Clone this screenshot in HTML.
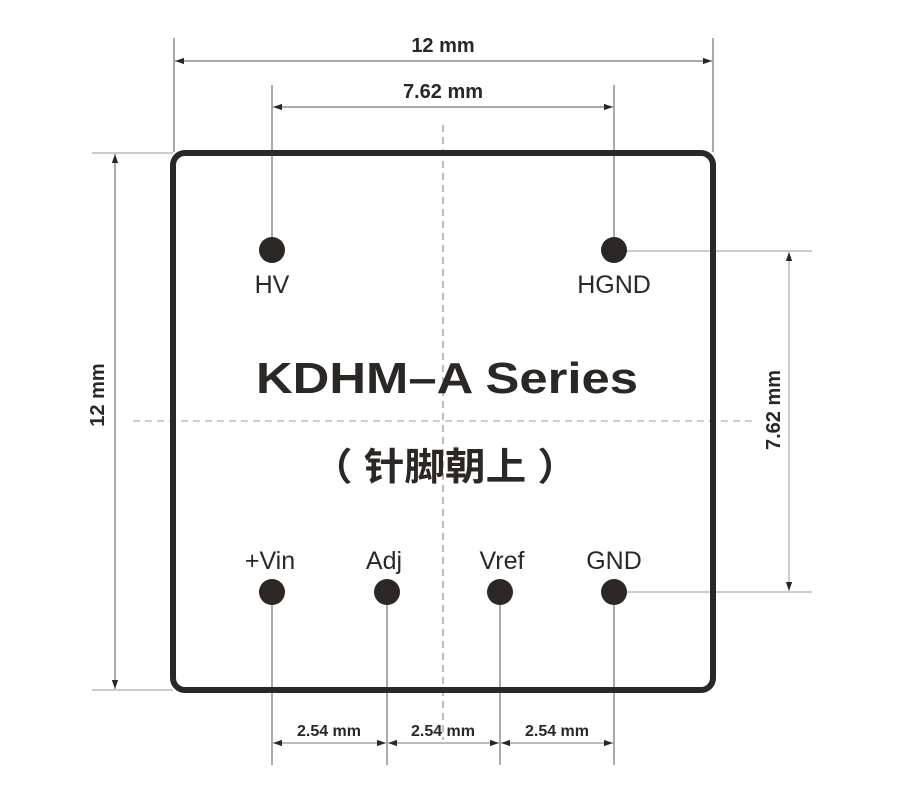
<!DOCTYPE html>
<html><head><meta charset="utf-8"><style>
html,body{margin:0;padding:0;background:#fff;}
svg{display:block;}
text{font-family:"Liberation Sans","Noto Sans CJK SC",sans-serif;fill:#2a2724;}
</style></head><body>
<svg width="912" height="795" viewBox="0 0 912 795" xmlns="http://www.w3.org/2000/svg">
<defs>
<marker id="a" viewBox="0 0 10 10" refX="10" refY="5" markerWidth="9" markerHeight="9" orient="auto-start-reverse" markerUnits="userSpaceOnUse"><path d="M0,1.5 L10,5 L0,8.5 z" fill="#2a2724"/></marker>
</defs>
<g stroke="#555" stroke-width="1" fill="none">
<!-- top 12mm -->
<line x1="174" y1="38" x2="174" y2="152"/>
<line x1="713" y1="38" x2="713" y2="152"/>
<line x1="175" y1="61" x2="712" y2="61" marker-start="url(#a)" marker-end="url(#a)"/>
<!-- 7.62 top -->
<line x1="272" y1="85" x2="272" y2="250"/>
<line x1="614" y1="85" x2="614" y2="250"/>
<line x1="273" y1="107" x2="613" y2="107" marker-start="url(#a)" marker-end="url(#a)"/>
<!-- left 12mm -->
<line x1="92" y1="153" x2="173" y2="153" stroke="#999"/>
<line x1="92" y1="690" x2="173" y2="690" stroke="#999"/>
<line x1="115" y1="154" x2="115" y2="689" marker-start="url(#a)" marker-end="url(#a)"/>
<!-- right 7.62 -->
<line x1="614" y1="251" x2="812" y2="251" stroke="#999"/>
<line x1="614" y1="592" x2="812" y2="592" stroke="#999"/>
<line x1="789" y1="252" x2="789" y2="591" stroke="#999" marker-start="url(#a)" marker-end="url(#a)"/>
<!-- bottom -->
<line x1="272" y1="592" x2="272" y2="765"/>
<line x1="387" y1="592" x2="387" y2="765"/>
<line x1="500" y1="592" x2="500" y2="765"/>
<line x1="614" y1="592" x2="614" y2="765"/>
<line x1="273" y1="743" x2="386" y2="743" stroke="#777" marker-start="url(#a)" marker-end="url(#a)"/>
<line x1="388" y1="743" x2="499" y2="743" stroke="#777" marker-start="url(#a)" marker-end="url(#a)"/>
<line x1="501" y1="743" x2="613" y2="743" stroke="#777" marker-start="url(#a)" marker-end="url(#a)"/>
<!-- center dashes -->
<line x1="443" y1="125" x2="443" y2="740" stroke="#777" stroke-dasharray="7,5"/>
<line x1="133" y1="421" x2="757" y2="421" stroke="#999" stroke-dasharray="7,5"/>
</g>
<rect x="173" y="153" width="540" height="537" rx="12" ry="12" fill="none" stroke="#2a2724" stroke-width="6"/>
<g fill="#2a2724">
<circle cx="272" cy="250" r="13"/><circle cx="614" cy="250" r="13"/>
<circle cx="272" cy="592" r="13"/><circle cx="387" cy="592" r="13"/>
<circle cx="500" cy="592" r="13"/><circle cx="614" cy="592" r="13"/>
</g>
<g font-weight="bold" font-size="20" text-anchor="middle">
<text x="443" y="52">12 mm</text>
<text x="443" y="98">7.62 mm</text>
<text transform="translate(104,395) rotate(-90)">12 mm</text>
<text transform="translate(780,410) rotate(-90)">7.62 mm</text>
</g>
<g font-weight="bold" font-size="16" text-anchor="middle">
<text x="329" y="736">2.54 mm</text>
<text x="443" y="736">2.54 mm</text>
<text x="557" y="736">2.54 mm</text>
</g>
<g font-size="25" text-anchor="middle">
<text x="272" y="293">HV</text>
<text x="614" y="293">HGND</text>
<text x="270" y="569">+Vin</text>
<text x="384" y="569">Adj</text>
<text x="502" y="569">Vref</text>
<text x="614" y="569">GND</text>
</g>
<text x="256" y="393" font-size="44" font-weight="bold" textLength="382" lengthAdjust="spacingAndGlyphs">KDHM–A Series</text>
<text x="312" y="480" font-size="38" font-weight="bold" textLength="266" lengthAdjust="spacingAndGlyphs">（ 针脚朝上 ）</text>
</svg>
</body></html>
